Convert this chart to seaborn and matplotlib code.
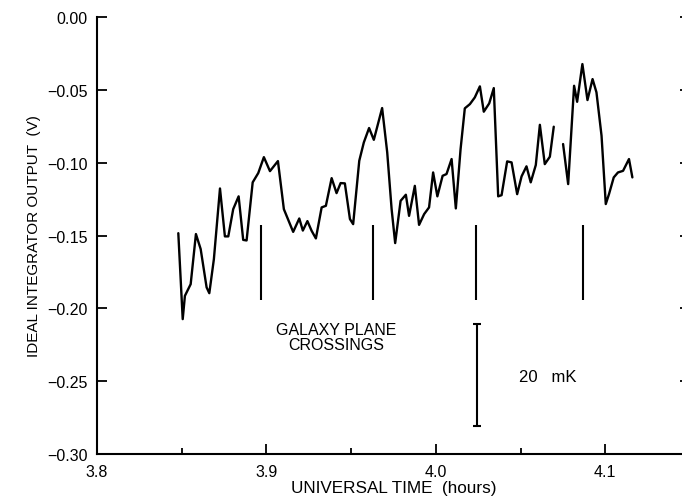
import numpy as np
import pandas as pd
import seaborn as sns
import matplotlib.pyplot as plt
from matplotlib.ticker import MultipleLocator

# integrator output, first stretch (hours, volts)
time_seg1 = [3.8480, 3.8506, 3.8519, 3.8553, 3.8584, 3.8612, 3.8647, 3.8663, 3.8690,
             3.8726, 3.8755, 3.8775, 3.8804, 3.8836, 3.8863, 3.8883, 3.8919, 3.8952,
             3.8985, 3.9021, 3.9068, 3.9103, 3.9158, 3.9194, 3.9215, 3.9242, 3.9267,
             3.9292, 3.9326, 3.9351, 3.9385, 3.9414, 3.9438, 3.9463, 3.9493, 3.9512,
             3.9548, 3.9575, 3.9606, 3.9634, 3.9683, 3.9713, 3.9739, 3.9760, 3.9792,
             3.9823, 3.9842, 3.9876, 3.9901, 3.9931, 3.9960, 3.9984, 4.0009, 4.0040,
             4.0063, 4.0093, 4.0118, 4.0146, 4.0171, 4.0201, 4.0230, 4.0260, 4.0283,
             4.0315, 4.0342, 4.0368, 4.0388, 4.0421, 4.0447, 4.0480, 4.0506, 4.0535,
             4.0560, 4.0590, 4.0614, 4.0643, 4.0673, 4.0696]
volt_seg1 = [-0.1484, -0.2074, -0.1914, -0.1834, -0.1490, -0.1593, -0.1856, -0.1896, -0.1662,
             -0.1177, -0.1506, -0.1506, -0.1319, -0.1231, -0.1530, -0.1534, -0.1135, -0.1071,
             -0.0962, -0.1058, -0.0989, -0.1319, -0.1475, -0.1383, -0.1466, -0.1401, -0.1468,
             -0.1520, -0.1307, -0.1296, -0.1106, -0.1209, -0.1140, -0.1142, -0.1387, -0.1422,
             -0.0987, -0.0861, -0.0762, -0.0843, -0.0625, -0.0929, -0.1319, -0.1552, -0.1262,
             -0.1220, -0.1365, -0.1159, -0.1427, -0.1353, -0.1307, -0.1067, -0.1231, -0.1090,
             -0.1078, -0.0975, -0.1314, -0.0907, -0.0627, -0.0598, -0.0552, -0.0476, -0.0650,
             -0.0593, -0.0488, -0.1231, -0.1223, -0.0991, -0.0998, -0.1216, -0.1094, -0.1025,
             -0.1135, -0.1016, -0.0740, -0.1010, -0.0959, -0.0753]

# second stretch after the gap
time_seg2 = [4.0751, 4.0781, 4.0816, 4.0834, 4.0865, 4.0895, 4.0925, 4.0948, 4.0978,
             4.1003, 4.1022, 4.1050, 4.1075, 4.1105, 4.1140, 4.1160]
volt_seg2 = [-0.0872, -0.1147, -0.0472, -0.0582, -0.0323, -0.0570, -0.0426, -0.0517, -0.0815,
             -0.1284, -0.1216, -0.1101, -0.1067, -0.1056, -0.0975, -0.1101]

crossing_times = [3.8968, 3.9628, 4.0236, 4.0867]
crossing_top = -0.143
crossing_bottom = -0.194

scale_bar_time = 4.0244
scale_bar_top = -0.211
scale_bar_bottom = -0.281

x_ticks = [3.8, 3.9, 4.0, 4.1]
x_tick_labels = ["3.8", "3.9", "4.0", "4.1"]
y_ticks = [-0.30, -0.25, -0.20, -0.15, -0.10, -0.05, 0.00]
y_tick_labels = ["\u22120.30", "\u22120.25", "\u22120.20", "\u22120.15", "\u22120.10", "\u22120.05", "0.00"]

df = pd.concat([
    pd.DataFrame({"time": time_seg1, "volt": volt_seg1, "segment": 1}),
    pd.DataFrame({"time": time_seg2, "volt": volt_seg2, "segment": 2}),
], ignore_index=True)

sns.set_style("ticks")
plt.rcParams['font.family'] = ['Liberation Sans', 'DejaVu Sans']
for key in ["text.color", "axes.labelcolor", "xtick.color", "ytick.color", "axes.edgecolor"]:
    plt.rcParams[key] = "black"

fig = plt.figure(figsize=(6.82, 5.02), dpi=100)
ax = fig.add_axes([0.1422, 0.0936, 0.8695, 0.8705])

sns.lineplot(data=df, x="time", y="volt", units="segment", estimator=None,
             color="black", lw=1.7, ax=ax)

# galaxy plane crossing markers
ax.vlines(crossing_times, crossing_bottom, crossing_top, color="black", lw=1.5)

# 20 mK scale bar
ax.vlines(scale_bar_time, scale_bar_bottom, scale_bar_top, color="black", lw=1.5)
ax.hlines([scale_bar_bottom, scale_bar_top], scale_bar_time - 0.0025, scale_bar_time + 0.0025,
          color="black", lw=1.5)

ax.text(3.941, -0.2195, "GALAXY PLANE\nCROSSINGS", ha="center", va="center",
        multialignment="center", fontsize=11.5, linespacing=1.0)
ax.text(4.049, -0.2466, "20   mK", ha="left", va="center", fontsize=12)

ax.set_xlim(3.8, 4.15)
ax.set_ylim(-0.30, 0.0)
ax.set_xticks(x_ticks)
ax.set_xticklabels(x_tick_labels)
ax.xaxis.set_minor_locator(MultipleLocator(0.05))
ax.set_yticks(y_ticks)
ax.set_yticklabels(y_tick_labels)

ax.tick_params(axis="both", which="major", direction="in", length=7, width=1.3,
               labelsize=11.5, pad=7)
ax.tick_params(axis="x", which="minor", direction="in", length=4, width=1.3)
ax.tick_params(axis="y", right=True)

ax.spines["top"].set_visible(False)
ax.spines["right"].set_visible(False)
for s in ["left", "bottom"]:
    ax.spines[s].set_linewidth(1.5)

ax.set_xlabel("UNIVERSAL TIME  (hours)", fontsize=12.3, labelpad=1)
ax.set_ylabel("IDEAL INTEGRATOR OUTPUT  (V)", fontsize=11, labelpad=4)

fig.savefig("out.png", dpi=100)
